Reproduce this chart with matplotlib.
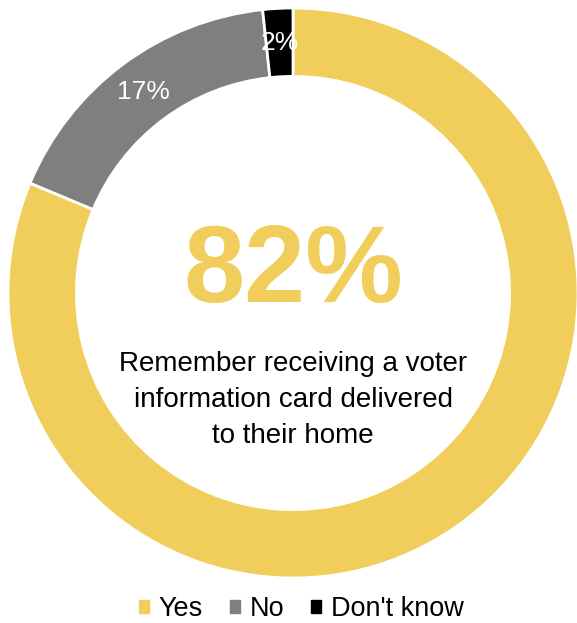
import matplotlib
matplotlib.use('Agg')
import matplotlib.pyplot as plt
import matplotlib.patches as mpatches

# data
categories = ['Yes', 'No', "Don't know"]
shares = [81.3, 17.0, 1.7]
shown = ['', '17%', '2%']
colors = ['#F1CE5B', '#7F7F7F', '#000000']
headline = '82%'
caption = 'Remember receiving a voter\ninformation card delivered\nto their home'

W, H = 577, 623
fig = plt.figure(figsize=(W / 100, H / 100), dpi=100)
cx, cy, r = 293, H - 293, 285
ax = fig.add_axes([(cx - r) / W, (cy - r) / H, 2 * r / W, 2 * r / H])

labels_iter = iter(shown)
wedges, _, autotexts = ax.pie(
    shares, colors=colors, startangle=90, counterclock=False, radius=1,
    wedgeprops=dict(width=0.24, edgecolor='white', linewidth=2),
    autopct=lambda p: next(labels_iter), pctdistance=0.88,
    textprops=dict(color='white', fontsize=19, family='Liberation Sans'))
ax.set_xlim(-1, 1)
ax.set_ylim(-1, 1)
ax.axis('off')

ax.text(0, 0.067, headline, ha='center', va='center', color=colors[0],
        fontsize=79, fontweight='bold', family='Liberation Sans')
ax.text(0, -0.375, caption, ha='center', va='center', color='black',
        fontsize=20, family='Liberation Sans', linespacing=1.5)

handles = [mpatches.Patch(color=c, label=l) for c, l in zip(colors, categories)]
fig.legend(handles=handles, loc='center', bbox_to_anchor=(0.522, 1 - 609 / H),
           ncol=3, frameon=False, prop=dict(family='Liberation Sans', size=19.5),
           handlelength=0.38, handleheight=0.38, handletextpad=0.35,
           columnspacing=1.0)

fig.savefig('out.png', dpi=100)
